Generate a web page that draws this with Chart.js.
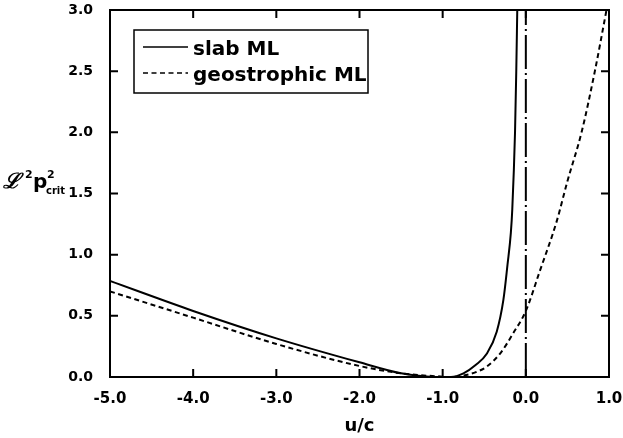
<!DOCTYPE html>
<html>
<head>
<meta charset="utf-8">
<script src="https://cdn.jsdelivr.net/npm/chart.js@4"></script>
<style>
  html, body { margin: 0; padding: 0; background: #fff; }
  #wrap { width: 623px; height: 438px; }
</style>
</head>
<body>
<div id="wrap"><canvas id="chart"></canvas></div>
<script>
// valores
const slabU = [-5, -4, -3, -2, -1.5, -1.2, -1.0, -0.9, -0.75, -0.6, -0.47, -0.35, -0.27, -0.22, -0.18, -0.163, -0.13, -0.115, -0.103];
const slabP = [0.785, 0.54, 0.316, 0.12, 0.03, 0.005, 0.0, 0.0, 0.03, 0.1, 0.19, 0.37, 0.63, 0.92, 1.18, 1.37, 2.0, 2.5, 3.0];

const geoU = [-5, -4, -3, -2, -1.5, -1.0, -0.9, -0.75, -0.6, -0.47, -0.3, -0.15, 0, 0.17, 0.37, 0.5, 0.67, 0.83, 0.97];
const geoP = [0.70, 0.485, 0.27, 0.09, 0.03, 0.003, 0.0, 0.012, 0.04, 0.085, 0.2, 0.36, 0.54, 0.87, 1.27, 1.6, 2.0, 2.5, 3.0];

const refU = [0, 0];
const refP = [0, 3];

const labels = ["slab ML", "geostrophic ML"];
const xRange = [-5, 1];
const yRange = [0, 3];

const FONT = "'DejaVu Sans', 'Liberation Sans', sans-serif";
Chart.defaults.font.family = FONT;
Chart.defaults.font.weight = "bold";
Chart.defaults.color = "#000";

function pts(xs, ys) {
  return xs.map((x, i) => ({ x: x, y: ys[i] }));
}

// marco y marcas hacia dentro en los cuatro lados
const framePlugin = {
  id: "frame",
  afterDatasetsDraw(chart) {
    const ctx = chart.ctx;
    const a = chart.chartArea;
    const sx = chart.scales.x, sy = chart.scales.y;
    const len = 8;
    ctx.save();
    ctx.strokeStyle = "#000";
    ctx.lineWidth = 2;
    ctx.strokeRect(a.left, a.top, a.right - a.left, a.bottom - a.top);
    ctx.beginPath();
    sx.ticks.forEach(t => {
      const px = sx.getPixelForValue(t.value);
      ctx.moveTo(px, a.bottom); ctx.lineTo(px, a.bottom - len);
      ctx.moveTo(px, a.top); ctx.lineTo(px, a.top + len);
    });
    sy.ticks.forEach(t => {
      const py = sy.getPixelForValue(t.value);
      ctx.moveTo(a.left, py); ctx.lineTo(a.left + len, py);
      ctx.moveTo(a.right, py); ctx.lineTo(a.right - len, py);
    });
    ctx.stroke();
    ctx.restore();
  }
};

// leyenda dentro del grafico y titulo del eje y
const legendPlugin = {
  id: "boxLegend",
  afterDraw(chart) {
    const ctx = chart.ctx;
    ctx.save();
    ctx.strokeStyle = "#000";
    ctx.lineWidth = 1.5;
    ctx.strokeRect(134, 30, 234, 63);
    const rows = [47, 73];
    chart.data.datasets.slice(0, 2).forEach((ds, i) => {
      ctx.beginPath();
      ctx.lineWidth = 1.5;
      ctx.setLineDash(ds.borderDash || []);
      ctx.moveTo(143, rows[i]);
      ctx.lineTo(188, rows[i]);
      ctx.stroke();
      ctx.setLineDash([]);
      ctx.fillStyle = "#000";
      ctx.font = "bold 20px " + FONT;
      ctx.textBaseline = "alphabetic";
      ctx.textAlign = "left";
      ctx.fillText(ds.label, 193, rows[i] + 8);
    });

    // etiqueta del eje y
    ctx.fillStyle = "#000";
    ctx.textBaseline = "alphabetic";
    ctx.font = "italic bold 21px 'DejaVu Serif', serif";
    ctx.fillText("\u2112", 3, 188);
    ctx.font = "bold 11px " + FONT;
    ctx.fillText("2", 25, 178);
    ctx.font = "bold 20px " + FONT;
    ctx.fillText("p", 33, 188);
    ctx.font = "bold 11px " + FONT;
    ctx.fillText("2", 47, 178);
    ctx.font = "bold 10px " + FONT;
    ctx.fillText("crit", 46, 194);
    ctx.restore();
  }
};

new Chart(document.getElementById("chart"), {
  type: "scatter",
  data: {
    datasets: [
      {
        label: labels[0],
        data: pts(slabU, slabP),
        showLine: true,
        borderColor: "#000",
        borderWidth: 2,
        pointRadius: 0,
        cubicInterpolationMode: "monotone",
      },
      {
        label: labels[1],
        data: pts(geoU, geoP),
        showLine: true,
        borderColor: "#000",
        borderWidth: 2,
        borderDash: [5, 3.5],
        pointRadius: 0,
        cubicInterpolationMode: "monotone",
      },
      {
        label: "u = 0",
        data: pts(refU, refP),
        showLine: true,
        borderColor: "#000",
        borderWidth: 2,
        borderDash: [34, 4, 2, 4],
        pointRadius: 0,
      },
    ],
  },
  options: {
    responsive: true,
    maintainAspectRatio: false,
    animation: false,
    layout: { padding: { top: 10, right: 14, left: 0, bottom: 0 } },
    plugins: {
      legend: { display: false },
      tooltip: { enabled: false },
    },
    scales: {
      x: {
        type: "linear",
        min: xRange[0],
        max: xRange[1],
        grid: { display: false, drawTicks: false },
        border: { display: false },
        ticks: {
          stepSize: 1,
          padding: 13,
          font: { size: 15, weight: "bold" },
          color: "#000",
          callback: v => v.toFixed(1),
        },
        title: {
          display: true,
          text: "u/c",
          font: { size: 18, weight: "bold" },
          color: "#000",
          padding: { top: 0, bottom: 1 },
        },
        afterFit(scale) {
          scale.height = 61;
          scale.paddingLeft = 0;
          scale.paddingRight = 0;
        },
      },
      y: {
        type: "linear",
        min: yRange[0],
        max: yRange[1],
        grid: { display: false, drawTicks: false },
        border: { display: false },
        ticks: {
          stepSize: 0.5,
          padding: 17,
          font: { size: 14, weight: "bold" },
          color: "#000",
          callback: v => v.toFixed(1),
        },
        afterFit(scale) {
          scale.width = 110;
          scale.paddingTop = 0;
          scale.paddingBottom = 0;
        },
      },
    },
  },
  plugins: [framePlugin, legendPlugin],
});
</script>
</body>
</html>
